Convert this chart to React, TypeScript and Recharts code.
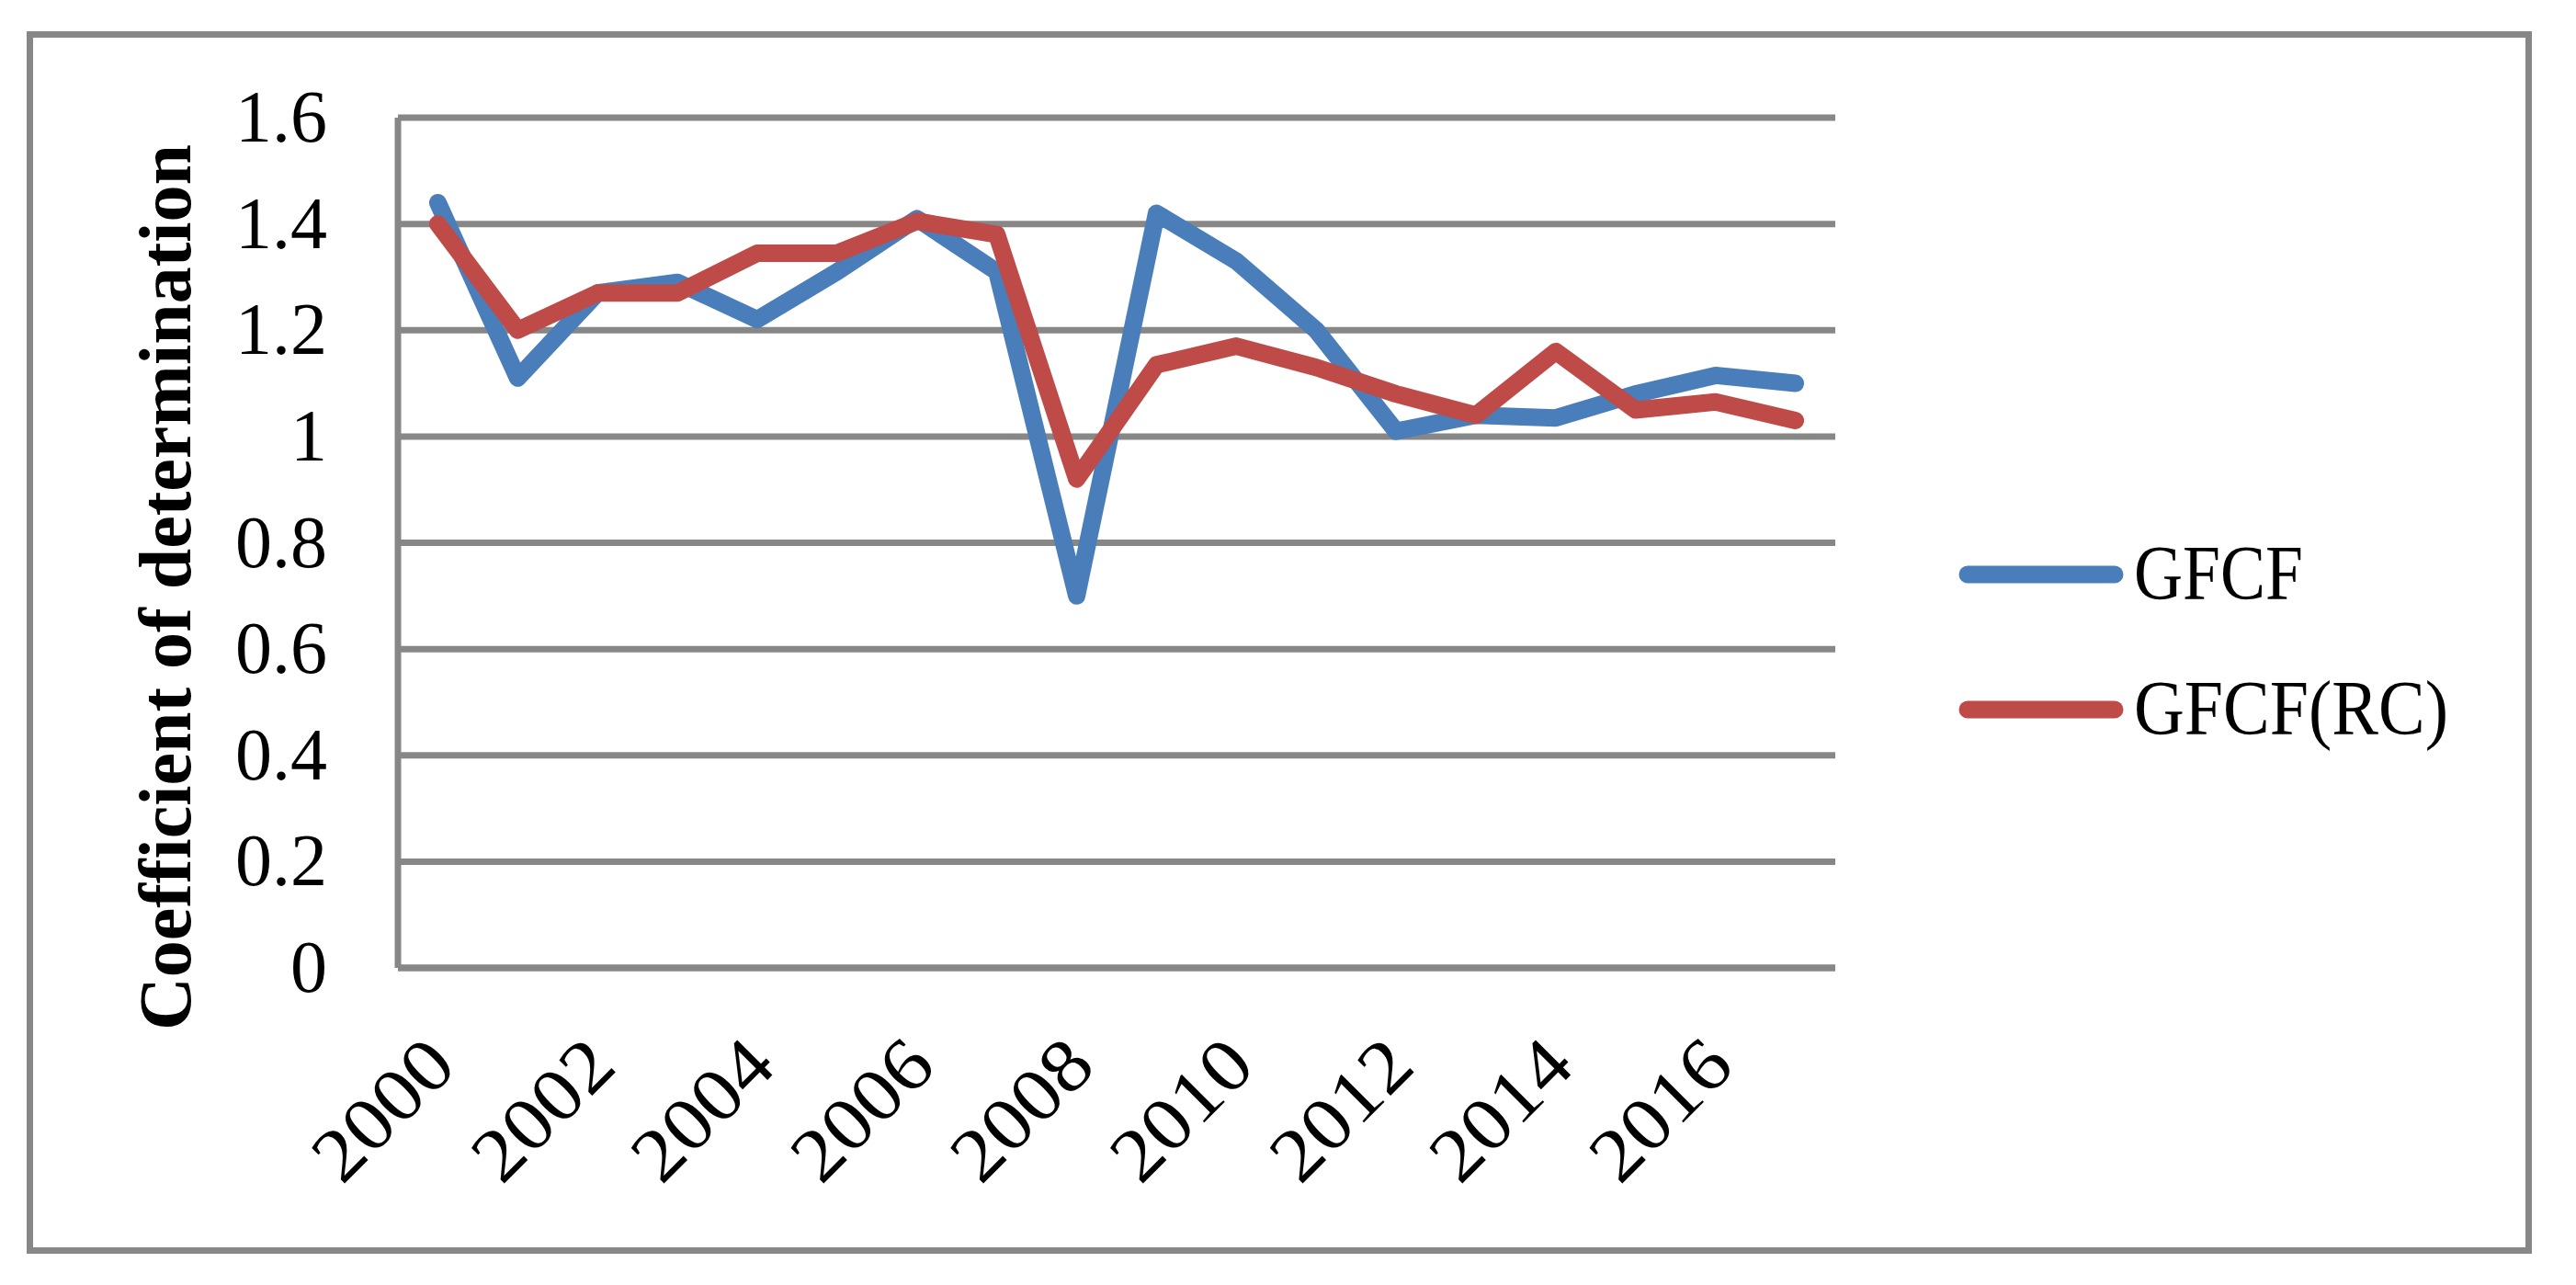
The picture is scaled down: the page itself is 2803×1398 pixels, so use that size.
import React from "react";
import { LineChart, Line, XAxis, YAxis, CartesianGrid, Legend, Label } from "recharts";

// Values
const years = [
    "2000", "2001", "2002", "2003", "2004", "2005", "2006", "2007", "2008",
    "2009", "2010", "2011", "2012", "2013", "2014", "2015", "2016", "2017",
];
const gfcf = [
    1.44, 1.11, 1.27, 1.29, 1.22, 1.31, 1.41, 1.31, 0.7,
    1.42, 1.33, 1.2, 1.01, 1.04, 1.035, 1.08, 1.115, 1.1,
];
const gfcfRc = [
    1.4, 1.2, 1.27, 1.27, 1.345, 1.345, 1.405, 1.38, 0.92,
    1.135, 1.17, 1.13, 1.08, 1.04, 1.16, 1.05, 1.065, 1.03,
];
const yTicks = [0, 0.2, 0.4, 0.6, 0.8, 1, 1.2, 1.4, 1.6];

const seriesList = [
    { key: "gfcf", name: "GFCF", color: "#4A7EBB", textLength: 184 },
    { key: "gfcfRc", name: "GFCF(RC)", color: "#BE4B48", textLength: 342 },
];

const data = years.map((year, i) => ({ year, gfcf: gfcf[i], gfcfRc: gfcfRc[i] }));

const W = 2803;
const H = 1398;
const PLOT_LEFT = 433;
const PLOT_RIGHT = 1997;
const PLOT_TOP = 128;
const PLOT_BOTTOM = 1053;
// half a category, so points sit in the middle of each slot like Excel does
const HALF_STEP = (PLOT_RIGHT - PLOT_LEFT) / years.length / 2;
const GRID = "#878787";
const SERIF = "'Liberation Serif', 'Times New Roman', serif";

const YTick = ({ y, payload }: any) => (
    <text x={PLOT_LEFT - 77} y={y + 26} textAnchor="end" fontSize={80} fontFamily={SERIF} fill="#000">
        {String(payload.value)}
    </text>
);

const XTick = ({ x, payload }: any) => {
    const ax = x + 23;
    const ay = PLOT_BOTTOM + 110;
    return (
        <text
            x={ax}
            y={ay}
            textAnchor="end"
            fontSize={82}
            fontFamily={SERIF}
            fill="#000"
            textLength={180}
            lengthAdjust="spacingAndGlyphs"
            transform={`rotate(-45, ${ax}, ${ay})`}
        >
            {payload.value}
        </text>
    );
};

const YLabel = () => (
    <text
        x={207}
        y={639}
        textAnchor="middle"
        fontSize={80}
        fontWeight="bold"
        fontFamily={SERIF}
        fill="#000"
        transform="rotate(-90, 207, 639)"
    >
        Coefficient of determination
    </text>
);

// legend box sits at (2100, 560) on the page
const LegendBox = () => (
    <svg width={700} height={300} style={{ overflow: "visible" }}>
        {seriesList.map((s, i) => {
            const cy = 65 + i * 147;
            return (
                <g key={s.key}>
                    <line x1={41} y1={cy} x2={201} y2={cy} stroke={s.color} strokeWidth={19} strokeLinecap="round" />
                    <text
                        x={222}
                        y={cy + 27}
                        fontSize={85}
                        fontFamily={SERIF}
                        fill="#000"
                        textLength={s.textLength}
                        lengthAdjust="spacingAndGlyphs"
                    >
                        {s.name}
                    </text>
                </g>
            );
        })}
    </svg>
);

export default function App() {
    return (
        <div style={{ position: "absolute", left: 0, top: 0, width: W, height: H, background: "#fff" }}>
            <div
                style={{
                    position: "absolute",
                    left: 29,
                    top: 34,
                    width: 2726,
                    height: 1330,
                    border: `7px solid ${GRID}`,
                    boxSizing: "border-box",
                }}
            />
            <div style={{ position: "absolute", left: 0, top: 0 }}>
                <LineChart
                    width={W}
                    height={H}
                    data={data}
                    margin={{
                        top: PLOT_TOP,
                        right: W - PLOT_RIGHT,
                        bottom: H - PLOT_BOTTOM - 200,
                        left: PLOT_LEFT - 200,
                    }}
                >
                    <CartesianGrid vertical={false} stroke={GRID} strokeWidth={7} />
                    <XAxis
                        dataKey="year"
                        interval={1}
                        height={200}
                        padding={{ left: HALF_STEP, right: HALF_STEP }}
                        axisLine={{ stroke: GRID, strokeWidth: 7 }}
                        tickLine={false}
                        tick={<XTick />}
                    />
                    <YAxis
                        type="number"
                        domain={[0, 1.6]}
                        ticks={yTicks}
                        width={200}
                        axisLine={{ stroke: GRID, strokeWidth: 7 }}
                        tickLine={false}
                        tick={<YTick />}
                    >
                        <Label content={<YLabel />} />
                    </YAxis>
                    <Legend
                        layout="horizontal"
                        verticalAlign="middle"
                        align="center"
                        content={<LegendBox />}
                        wrapperStyle={{ left: 2100, top: 560, width: 700, height: 300 }}
                    />
                    {seriesList.map((s) => (
                        <Line
                            key={s.key}
                            type="linear"
                            dataKey={s.key}
                            name={s.name}
                            stroke={s.color}
                            strokeWidth={19}
                            strokeLinecap="round"
                            strokeLinejoin="round"
                            dot={false}
                            activeDot={false}
                            isAnimationActive={false}
                        />
                    ))}
                </LineChart>
            </div>
        </div>
    );
}
